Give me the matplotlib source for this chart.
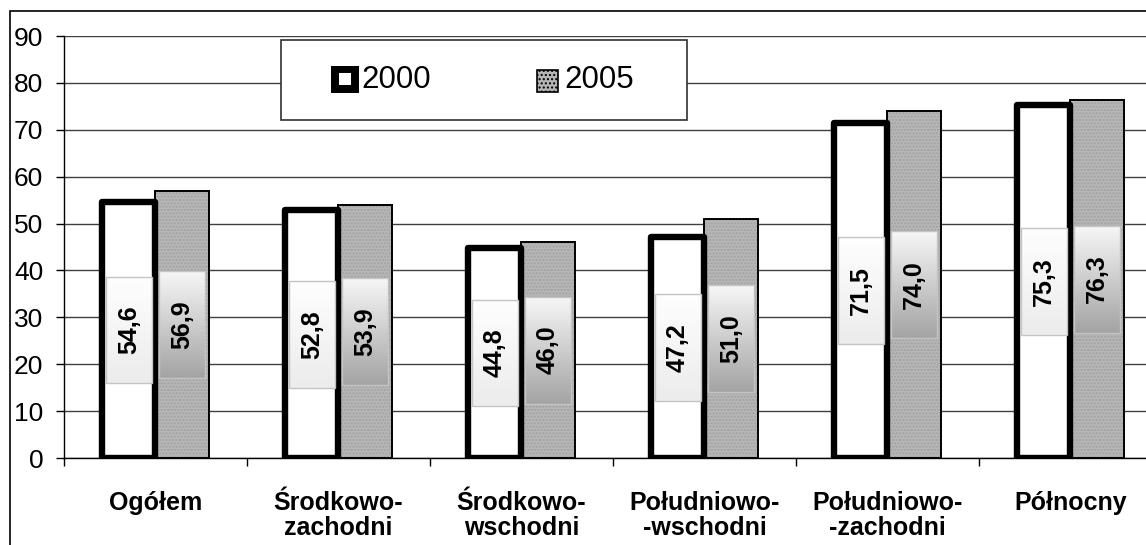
import numpy as np
import matplotlib
matplotlib.use("Agg")
from matplotlib import pyplot as plt
from matplotlib.patches import Rectangle
from matplotlib.colors import LinearSegmentedColormap

plt.rcParams['font.family'] = ['Liberation Sans', 'DejaVu Sans']

regions = ["Ogółem", "Środkowo-\nzachodni", "Środkowo-\nwschodni",
           "Południowo-\n-wschodni", "Południowo-\n-zachodni", "Północny"]
years = ["2000", "2005"]
values_2000 = [54.6, 52.8, 44.8, 47.2, 71.5, 75.3]
values_2005 = [56.9, 53.9, 46.0, 51.0, 74.0, 76.3]
yticks = list(range(0, 91, 10))

W, H = 1146, 545
fig = plt.figure(figsize=(W / 100, H / 100), dpi=100)
ax = fig.add_axes([64 / W, (H - 458) / H, 1098 / W, 422 / H])

x = np.arange(len(regions))
bw = 0.29
off = 0.145
gray = '#b6b6b6'

# 2005 bars: dotted gray fill + thin black outline
ax.bar(x + off, values_2005, bw, color=gray, edgecolor='#a2a2a2', hatch='.....', linewidth=0, zorder=2)
ax.bar(x + off, values_2005, bw, fill=False, edgecolor='black', linewidth=1.4, zorder=3)
# 2000 bars: white with thick black border
ax.bar(x - off, values_2000, bw, color='white', edgecolor='black', linewidth=4.6, zorder=4,
       joinstyle='round')

# value label boxes with gradients
box_h = 22.8
box_w = 0.25
cm_2000 = LinearSegmentedColormap.from_list('g0', ['#ececec', '#fefefe'])
cm_2005 = LinearSegmentedColormap.from_list('g5', ['#a4a4a4', '#f6f6f6'])
grad = np.linspace(0, 1, 64).reshape(-1, 1)
for xs, vals, cmap in [(x - off, values_2000, cm_2000), (x + off, values_2005, cm_2005)]:
    for xi, v in zip(xs, vals):
        mid = v / 2
        ax.imshow(grad, cmap=cmap, origin='lower', aspect='auto', zorder=5,
                  extent=[xi - box_w / 2, xi + box_w / 2, mid - box_h / 2, mid + box_h / 2])
        ax.add_patch(Rectangle((xi - box_w / 2, mid - box_h / 2), box_w, box_h, fill=False,
                               edgecolor='#c4c4c4', linewidth=1, zorder=6))
        ax.text(xi, mid, f"{v:.1f}".replace('.', ','), rotation=90, ha='center', va='center',
                fontsize=18, fontweight='bold', zorder=7)

ax.set_xlim(-0.5, len(regions) - 0.5)
ax.set_ylim(0, 90)
ax.set_yticks(yticks)
ax.set_yticklabels([str(t) for t in yticks], fontsize=19)
ax.tick_params(axis='y', direction='out', length=6, width=1, pad=9)
ax.set_xticks(x)
ax.set_xticklabels(regions, fontsize=18, fontweight='bold', linespacing=1.05)
ax.tick_params(axis='x', which='major', length=0, pad=24)
ax.set_xticks(np.arange(-0.5, len(regions)), minor=True)
ax.tick_params(axis='x', which='minor', direction='out', length=6, width=1)
ax.yaxis.grid(True, color='#404040', linewidth=1)
ax.set_axisbelow(True)
for s in ['top', 'right']:
    ax.spines[s].set_visible(False)
ax.spines['left'].set_linewidth(1)
ax.spines['bottom'].set_linewidth(1)

# legend drawn by hand
def px(xp, yp):
    return xp / W, 1 - yp / H

lx, ly = px(281, 120)
fig.add_artist(Rectangle((lx, ly), 406 / W, 80 / H, transform=fig.transFigure,
                         facecolor='white', edgecolor='#303030', linewidth=1.2, zorder=10))
mx, my = px(331, 93)
fig.add_artist(Rectangle((mx, my), 28 / W, 27 / H, transform=fig.transFigure,
                         facecolor='black', edgecolor='black', linewidth=0, zorder=11))
mx, my = px(339, 85)
fig.add_artist(Rectangle((mx, my), 12 / W, 12 / H, transform=fig.transFigure,
                         facecolor='white', edgecolor='white', linewidth=0, zorder=12))
mx, my = px(537, 92)
fig.add_artist(Rectangle((mx, my), 21 / W, 22 / H, transform=fig.transFigure,
                         facecolor=gray, edgecolor='black', linewidth=1.2, hatch='....', zorder=11))
tx, ty = px(361, 80)
fig.text(tx, ty, years[0], fontsize=22.5, va='center', ha='left', zorder=12)
tx, ty = px(564, 80)
fig.text(tx, ty, years[1], fontsize=22.5, va='center', ha='left', zorder=12)

# outer chart frame (extends past right/bottom edges)
fx, fy = px(10, 600)
fig.add_artist(Rectangle((fx, fy), 2, (600 - 11) / H, transform=fig.transFigure,
                         fill=False, edgecolor='black', linewidth=1.2, zorder=0))

fig.savefig("out.png", dpi=100)
